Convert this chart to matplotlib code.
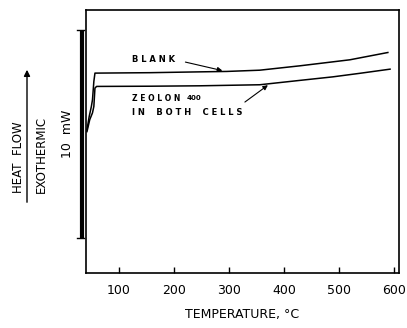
import matplotlib
matplotlib.use("Agg")
import matplotlib.pyplot as plt

# temperature (deg C) and heat flow (mW, arbitrary zero)
blank_t = [42, 46, 50, 52, 54.5, 56.5, 60, 156, 247, 296, 356, 429, 520, 589]
blank_mw = [6.88, 7.51, 8.0, 8.32, 9.2, 9.6, 9.6, 9.62, 9.66, 9.68, 9.74, 9.95, 10.24, 10.59]

zeolon_t = [42, 47, 52, 54.5, 56.5, 59.5, 156, 247, 356, 429, 489, 538, 593]
zeolon_mw = [6.79, 7.36, 7.69, 8.0, 8.88, 8.96, 8.97, 8.99, 9.04, 9.25, 9.42, 9.59, 9.79]

xticks = [100, 200, 300, 400, 500, 600]
scale_bar_mw = [1.68, 11.68]  # 10 mW calibration bar


def main() -> None:
    fig = plt.figure(figsize=(4.07, 3.28), dpi=100)
    ax = fig.add_axes([0.211, 0.168, 0.769, 0.802])

    ax.plot(blank_t, blank_mw, color="black", lw=1.1)
    ax.plot(zeolon_t, zeolon_mw, color="black", lw=1.1)

    ax.set_xlim(40, 609)
    ax.set_ylim(0, 12.64)
    ax.set_xticks(xticks)
    ax.set_yticks([])
    ax.tick_params(axis="x", direction="in", length=4, width=1, pad=8,
                   labelsize=9)
    for s in ax.spines.values():
        s.set_linewidth(1.2)

    # calibration bar just left of the axis
    bar_x = 32.7
    ax.plot([bar_x, bar_x], scale_bar_mw, color="black", lw=3,
            solid_capstyle="butt", clip_on=False)
    for yv in scale_bar_mw:
        ax.plot([24, 37], [yv, yv], color="black", lw=1, clip_on=False)
    ax.text(7, sum(scale_bar_mw) / 2, "10  mW", rotation=90, fontsize=9,
            ha="center", va="center", clip_on=False)

    # annotations
    ax.text(124, 10.24, "B L A N K", fontsize=6, fontweight="bold",
            ha="left", va="center")
    ax.annotate("", xy=(293, 9.69), xytext=(216, 10.16),
                arrowprops=dict(arrowstyle="-|>", lw=0.8, color="black",
                                mutation_scale=7))
    ax.text(124, 8.39, "Z E O L O N", fontsize=5.5, fontweight="bold",
            ha="left", va="center")
    ax.text(224, 8.39, "400", fontsize=5, fontweight="bold",
            ha="left", va="center")
    ax.text(124, 7.73, "I N    B O T H    C E L L S", fontsize=6,
            fontweight="bold", ha="left", va="center")
    ax.annotate("", xy=(375, 9.1), xytext=(325, 8.13),
                arrowprops=dict(arrowstyle="-|>", lw=0.8, color="black",
                                mutation_scale=7))

    ax.set_xlabel("TEMPERATURE, °C", fontsize=9, labelpad=8)

    # y-axis legend at the far left
    fig.text(19, 170.5, "HEAT  FLOW", transform=None, rotation=90,
             fontsize=8.5, ha="center", va="center")
    fig.text(41, 174, "EXOTHERMIC", transform=None, rotation=90,
             fontsize=8.5, ha="center", va="center")
    ax.annotate("", xy=(27, 261), xytext=(27, 123),
                xycoords="figure pixels", textcoords="figure pixels",
                arrowprops=dict(arrowstyle="-|>", lw=1, color="black",
                                mutation_scale=9))

    fig.savefig("out.png", dpi=100)


if __name__ == "__main__":
    main()
